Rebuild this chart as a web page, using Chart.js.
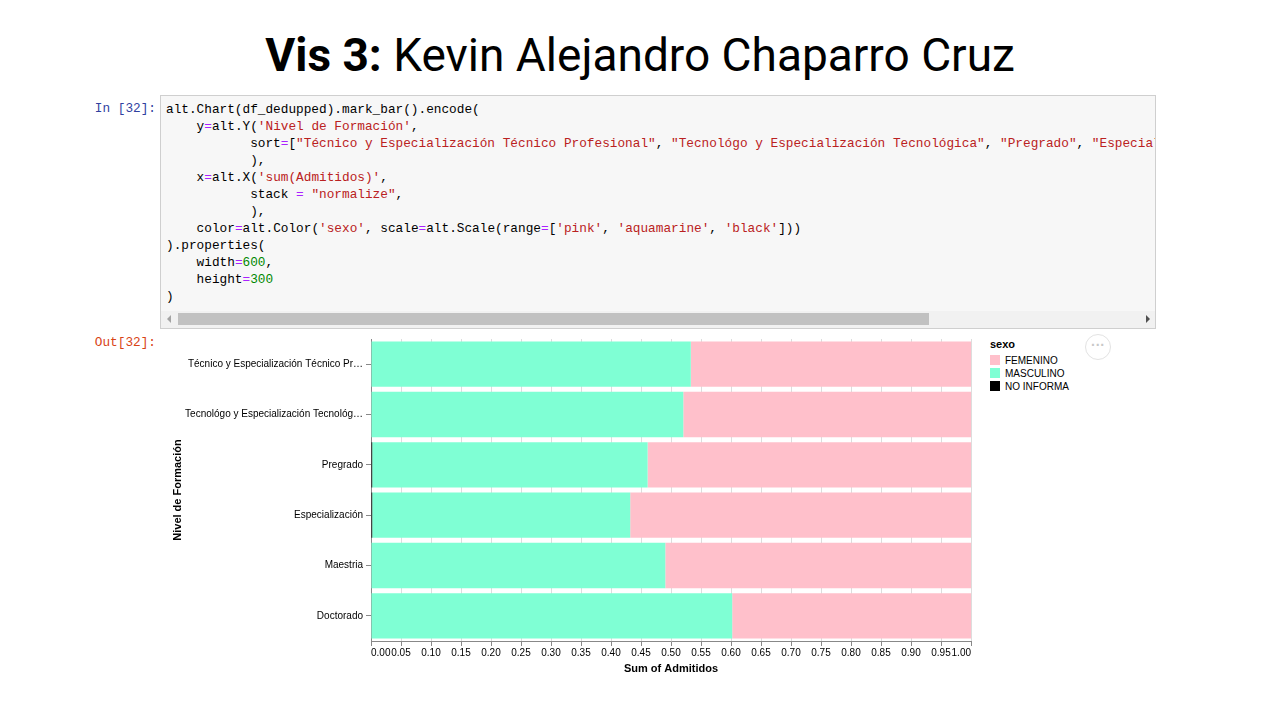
<!DOCTYPE html>
<html>
<head>
<meta charset="utf-8">
<script src="https://cdn.jsdelivr.net/npm/chart.js@4"></script>
<style>
  html, body { margin:0; padding:0; background:#fff; }
  body { width:1280px; height:720px; position:relative; overflow:hidden; font-family:"Liberation Sans", Arial, sans-serif; }
  #title { position:absolute; left:0; width:1280px; top:29px; text-align:center; font-family:Roboto, "Liberation Sans", sans-serif; font-size:46px; color:#000; line-height:52px; }
  #title b { font-weight:700; }
  .prompt { position:absolute; font-family:"Liberation Mono", "DejaVu Sans Mono", monospace; font-size:12.75px; text-align:right; width:80px; }
  #inp { left:76px; top:101px; color:#303F9F; }
  #outp { left:76px; top:335px; color:#D84315; }
  #cell { position:absolute; left:160px; top:95px; width:994px; height:232px; background:#f7f7f7; border:1px solid #cfcfcf; overflow:hidden; }
  #code { position:absolute; left:5px; top:5px; margin:0; font-family:"Liberation Mono", "DejaVu Sans Mono", monospace; font-size:12.75px; line-height:17px; color:#000; white-space:pre; }
  .s { color:#BA2121; } .o { color:#AA22FF; } .n { color:#008800; }
  #track { position:absolute; left:0; top:215px; width:994px; height:17px; background:#f1f1f1; }
  #thumb { position:absolute; left:17px; top:2px; width:751px; height:12px; background:#c1c1c1; }
  #larr { position:absolute; left:6px; top:4px; width:0; height:0; border-top:4px solid transparent; border-bottom:4px solid transparent; border-right:4px solid #a3a3a3; }
  #rarr { position:absolute; left:985px; top:4px; width:0; height:0; border-top:4px solid transparent; border-bottom:4px solid transparent; border-left:4px solid #505050; }
  #chartwrap { position:absolute; left:167px; top:330px; width:813px; height:350px; }
  #legend { position:absolute; left:990px; top:338px; font-family:"Liberation Sans", Arial, sans-serif; color:#000; }
  #legend .lt { font-weight:bold; font-size:11px; line-height:13px; margin-bottom:3px; }
  #legend .li { font-size:10px; line-height:13px; height:13px; position:relative; padding-left:15px; }
  #legend .sw { position:absolute; left:0; top:1px; width:10px; height:10px; }
  #more { position:absolute; left:1085px; top:334px; width:26px; height:26px; border:1px solid #e3e3e3; border-radius:50%; box-sizing:border-box; text-align:center; color:#c8c8c8; font-size:14px; line-height:20px; font-family:"Liberation Sans", sans-serif; letter-spacing:0px; font-weight:bold; }
</style>
</head>
<body>
<div id="title"><b>Vis 3:</b> Kevin Alejandro Chaparro Cruz</div>

<div id="inp" class="prompt">In [32]:</div>
<div id="cell">
<pre id="code">alt.Chart(df_dedupped).mark_bar().encode(
    y<span class="o">=</span>alt.Y(<span class="s">'Nivel de Formación'</span>,
           sort<span class="o">=</span>[<span class="s">"Técnico y Especialización Técnico Profesional"</span>, <span class="s">"Tecnológo y Especialización Tecnológica"</span>, <span class="s">"Pregrado"</span>, <span class="s">"Especialización"</span>, <span class="s">"Maestria"</span>, <span class="s">"Doctorado"</span>]
           ),
    x<span class="o">=</span>alt.X(<span class="s">'sum(Admitidos)'</span>,
           stack <span class="o">=</span> <span class="s">"normalize"</span>,
           ),
    color<span class="o">=</span>alt.Color(<span class="s">'sexo'</span>, scale<span class="o">=</span>alt.Scale(range<span class="o">=</span>[<span class="s">'pink'</span>, <span class="s">'aquamarine'</span>, <span class="s">'black'</span>]))
).properties(
    width<span class="o">=</span><span class="n">600</span>,
    height<span class="o">=</span><span class="n">300</span>
)</pre>
<div id="track"><div id="larr"></div><div id="thumb"></div><div id="rarr"></div></div>
</div>

<div id="outp" class="prompt">Out[32]:</div>
<div id="chartwrap"><canvas id="c"></canvas></div>
<div id="legend"></div>
<div id="more">&middot;&middot;&middot;</div>

<script>
// ---- data ----
const categories = [
  "Técnico y Especialización Técnico Profesional",
  "Tecnológo y Especialización Tecnológica",
  "Pregrado",
  "Especialización",
  "Maestria",
  "Doctorado"
];
const yTickLabels = [
  "Técnico y Especialización Técnico Pr…",
  "Tecnológo y Especialización Tecnológ…",
  "Pregrado",
  "Especialización",
  "Maestria",
  "Doctorado"
];
const seriesNames = ["FEMENINO", "MASCULINO", "NO INFORMA"];
const seriesColors = ["#FFC0CB", "#7FFFD4", "#000000"];
const femenino   = [0.467, 0.4795, 0.539, 0.568, 0.5095, 0.398];
const masculino  = [0.533, 0.5205, 0.459, 0.430, 0.4905, 0.602];
const noInforma  = [0.000, 0.000, 0.002, 0.002, 0.000, 0.000];
const xTicks = [0,0.05,0.1,0.15,0.2,0.25,0.3,0.35,0.4,0.45,0.5,0.55,0.6,0.65,0.7,0.75,0.8,0.85,0.9,0.95,1];

// ---- legend (HTML) ----
const leg = document.getElementById('legend');
let lh = '<div class="lt">sexo</div>';
seriesNames.forEach((n,i)=>{ lh += '<div class="li"><span class="sw" style="background:'+seriesColors[i]+'"></span>'+n+'</div>'; });
leg.innerHTML = lh;

// ---- chart ----
const FONT = "'Liberation Sans', Arial, sans-serif";
const ds = [
  { label: seriesNames[2], data: noInforma, backgroundColor: seriesColors[2] },
  { label: seriesNames[1], data: masculino, backgroundColor: seriesColors[1] },
  { label: seriesNames[0], data: femenino,  backgroundColor: seriesColors[0] }
].map(d => Object.assign(d, { barPercentage: 0.9, categoryPercentage: 1.0, borderWidth: 0 }));

new Chart(document.getElementById('c'), {
  type: 'bar',
  data: { labels: categories, datasets: ds },
  options: {
    indexAxis: 'y',
    responsive: true,
    maintainAspectRatio: false,
    animation: false,
    layout: { padding: { top: 0, right: 9, bottom: 0, left: 0 } },
    plugins: { legend: { display: false }, tooltip: { enabled: false } },
    scales: {
      x: {
        type: 'linear', stacked: true, min: 0, max: 1,
        afterBuildTicks: (s) => { s.ticks = xTicks.map(v => ({ value: v })); },
        afterFit: (s) => { s.height = 39; },
        ticks: { autoSkip: false, maxRotation: 0, align: 'inner', padding: 1, color: '#000',
                 font: { family: FONT, size: 10 }, callback: (v) => Number(v).toFixed(2) },
        grid: { color: '#dddddd', tickColor: '#888888', tickLength: 5, lineWidth: 1 },
        border: { display: true, color: '#888888' },
        title: { display: true, text: 'Sum of Admitidos', color: '#000', font: { family: FONT, size: 11, weight: 'bold' }, padding: { top: 2, bottom: 4 } }
      },
      y: {
        type: 'category', stacked: true,
        afterFit: (s) => { s.width = 204; },
        ticks: { color: '#000', padding: 3, font: { family: FONT, size: 10 },
                 callback: (v, i) => yTickLabels[i] },
        grid: { display: true, drawOnChartArea: false, drawTicks: true, offset: false, tickLength: 5, tickColor: '#888888' },
        border: { display: true, color: '#888888' },
        title: { display: true, text: 'Nivel de Formación', color: '#000', font: { family: FONT, size: 11, weight: 'bold' }, padding: { top: 4, bottom: 4 } }
      }
    }
  }
});
</script>
</body>
</html>
